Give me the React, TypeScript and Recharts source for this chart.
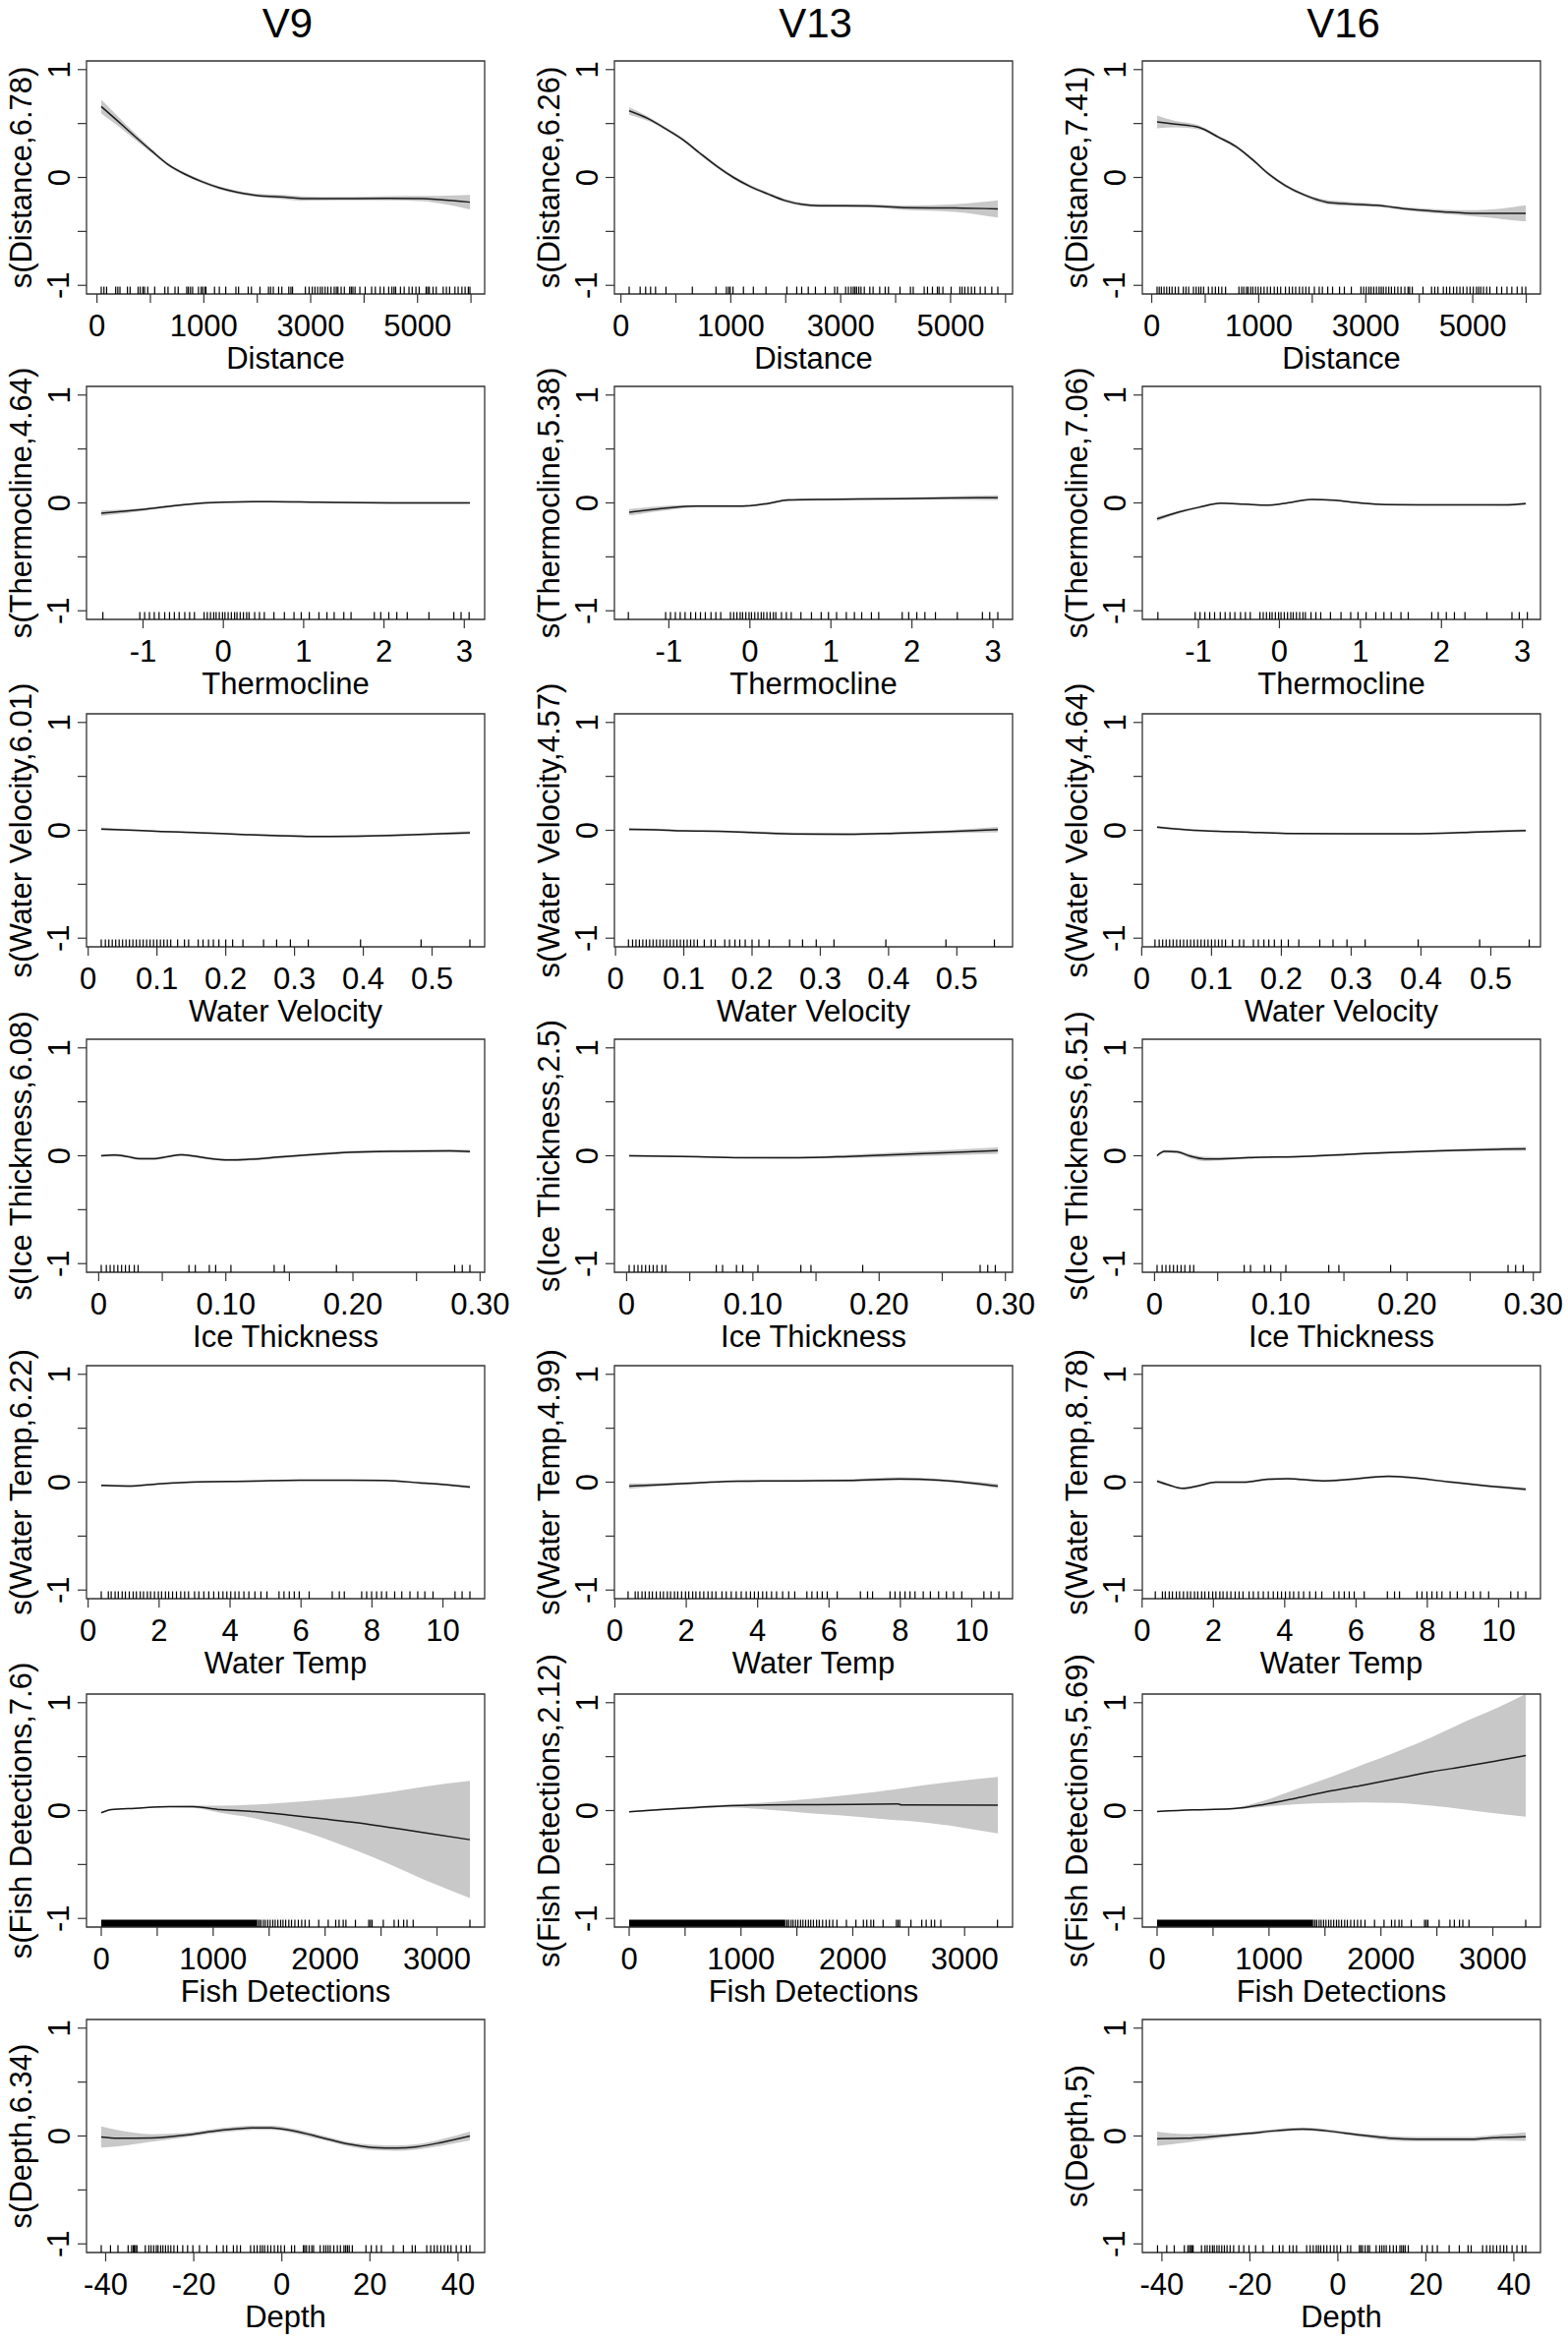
import React from 'react';
import { ComposedChart, Line, Area, XAxis, YAxis, ReferenceLine, ReferenceArea } from 'recharts';

const FONT = '"Liberation Sans", Arial, Helvetica, sans-serif';

// ---- tick definitions ----
const distTicks = [0, 1, 2, 3, 4, 5, 6, 7];
const distTickLabels = ['0', '', '1000', '', '3000', '', '5000', ''];
const thermoTicks = [-1, 0, 1, 2, 3];
const thermoTickLabels = ['-1', '0', '1', '2', '3'];
const veloTicks = [0, 0.1, 0.2, 0.3, 0.4, 0.5];
const veloTickLabels = ['0', '0.1', '0.2', '0.3', '0.4', '0.5'];
const iceTicks = [0, 0.05, 0.1, 0.15, 0.2, 0.25, 0.3];
const iceTickLabels = ['0', '', '0.10', '', '0.20', '', '0.30'];
const tempTicks = [0, 2, 4, 6, 8, 10];
const tempTickLabels = ['0', '2', '4', '6', '8', '10'];
const fishTicks = [0, 500, 1000, 1500, 2000, 2500, 3000];
const fishTickLabels = ['0', '', '1000', '', '2000', '', '3000'];
const depthTicks = [-40, -20, 0, 20, 40];
const depthTickLabels = ['-40', '-20', '0', '20', '40'];
const yTicks = [-1, -0.5, 0, 0.5, 1];

// ---- Distance ----
const v9DistX = [0.08, 0.38, 0.7, 1.02, 1.33, 1.65, 1.97, 2.29, 2.6, 2.98, 3.56, 3.87, 4.5, 5.46, 6.1, 6.41, 6.98];
const v9DistFit = [0.657, 0.527, 0.385, 0.247, 0.12, 0.03, -0.04, -0.096, -0.135, -0.166, -0.184, -0.196, -0.196, -0.193, -0.196, -0.205, -0.229];
const v9DistSe = [0.065, 0.045, 0.03, 0.02, 0.015, 0.015, 0.015, 0.015, 0.015, 0.015, 0.02, 0.02, 0.015, 0.02, 0.025, 0.035, 0.068];

const v13DistX = [0.15, 0.51, 0.82, 1.13, 1.43, 1.74, 2.05, 2.36, 2.67, 2.98, 3.29, 3.6, 4.53, 5.15, 6.07, 6.86];
const v13DistFit = [0.617, 0.541, 0.45, 0.35, 0.228, 0.106, 0.0, -0.085, -0.152, -0.213, -0.249, -0.261, -0.264, -0.28, -0.283, -0.292];
const v13DistSe = [0.035, 0.02, 0.015, 0.015, 0.015, 0.015, 0.015, 0.015, 0.015, 0.015, 0.015, 0.015, 0.015, 0.02, 0.035, 0.08];

const v16DistX = [0.1, 0.44, 0.88, 1.25, 1.57, 1.88, 2.19, 2.5, 2.88, 3.26, 3.57, 4.2, 4.82, 5.45, 6.07, 6.99];
const v16DistFit = [0.515, 0.494, 0.464, 0.373, 0.288, 0.167, 0.03, -0.076, -0.167, -0.227, -0.242, -0.258, -0.294, -0.318, -0.333, -0.333];
const v16DistSe = [0.06, 0.03, 0.02, 0.015, 0.015, 0.015, 0.015, 0.015, 0.015, 0.02, 0.02, 0.015, 0.015, 0.02, 0.03, 0.075];

const v9DistRug = [0.08, 0.13, 0.18, 0.35, 0.39, 0.43, 0.57, 0.62, 0.77, 0.81, 0.86, 0.89, 0.95, 1.08, 1.27, 1.33, 1.46, 1.52, 1.68, 1.71, 1.75, 1.79, 1.9, 1.95, 1.98, 2.02, 2.04, 2.2, 2.29, 2.41, 2.6, 2.65, 2.83, 2.89, 3.05, 3.21, 3.25, 3.3, 3.4, 3.46, 3.59, 3.63, 3.66, 3.9, 3.97, 4.03, 4.08, 4.13, 4.18, 4.22, 4.27, 4.32, 4.38, 4.44, 4.48, 4.51, 4.57, 4.63, 4.73, 4.76, 4.79, 4.83, 4.92, 5.02, 5.14, 5.21, 5.3, 5.37, 5.46, 5.52, 5.56, 5.59, 5.68, 5.75, 5.84, 5.9, 5.97, 6.03, 6.16, 6.19, 6.22, 6.29, 6.35, 6.48, 6.54, 6.6, 6.7, 6.76, 6.83, 6.89, 6.95, 6.98];
const v13DistRug = [0.15, 0.35, 0.45, 0.54, 0.63, 0.82, 1.3, 1.73, 1.92, 1.96, 1.99, 2.04, 2.23, 2.41, 2.64, 3.02, 3.2, 3.29, 3.41, 3.54, 3.72, 3.89, 3.94, 4.09, 4.14, 4.19, 4.23, 4.26, 4.29, 4.33, 4.37, 4.43, 4.53, 4.59, 4.71, 4.81, 4.87, 5.08, 5.27, 5.32, 5.52, 5.58, 5.67, 5.76, 5.79, 5.86, 6.01, 6.17, 6.21, 6.26, 6.32, 6.38, 6.44, 6.54, 6.63, 6.75, 6.86];
const v16DistRug = [0.1, 0.14, 0.18, 0.23, 0.28, 0.33, 0.38, 0.44, 0.5, 0.59, 0.64, 0.69, 0.78, 0.83, 0.88, 0.92, 0.97, 1.06, 1.13, 1.19, 1.25, 1.31, 1.38, 1.63, 1.68, 1.72, 1.77, 1.8, 1.85, 1.89, 1.94, 1.99, 2.04, 2.1, 2.16, 2.22, 2.29, 2.35, 2.41, 2.5, 2.57, 2.63, 2.69, 2.76, 2.82, 2.88, 2.94, 3.04, 3.13, 3.19, 3.29, 3.38, 3.51, 3.6, 3.73, 3.91, 3.96, 4.01, 4.06, 4.1, 4.15, 4.2, 4.25, 4.29, 4.33, 4.38, 4.43, 4.48, 4.54, 4.6, 4.66, 4.73, 4.79, 4.82, 4.87, 5.07, 5.23, 5.29, 5.35, 5.45, 5.51, 5.57, 5.64, 5.7, 5.76, 5.82, 5.89, 5.95, 6.01, 6.07, 6.11, 6.15, 6.2, 6.26, 6.32, 6.45, 6.54, 6.64, 6.73, 6.83, 6.92, 6.99];

// ---- Thermocline ----
const v9ThermoX = [-1.52, -0.98, -0.48, 0, 0.57, 1.19, 2.19, 3.07];
const v9ThermoFit = [-0.096, -0.06, -0.015, 0.006, 0.012, 0.006, 0, 0];
const v9ThermoSe = [0.025, 0.012, 0.01, 0.008, 0.008, 0.008, 0.008, 0.01];

const v13ThermoX = [-1.49, -1, -0.65, -0.09, 0.22, 0.47, 0.97, 1.84, 2.46, 3.06];
const v13ThermoFit = [-0.087, -0.045, -0.03, -0.03, -0.006, 0.027, 0.033, 0.039, 0.045, 0.048];
const v13ThermoSe = [0.03, 0.02, 0.012, 0.01, 0.01, 0.01, 0.01, 0.012, 0.015, 0.022];

const v16ThermoX = [-1.51, -1.24, -0.99, -0.72, -0.43, -0.15, 0.12, 0.4, 0.68, 0.99, 1.3, 1.73, 2.35, 2.79, 3.04];
const v16ThermoFit = [-0.148, -0.085, -0.04, -0.003, -0.012, -0.021, 0.003, 0.033, 0.024, 0, -0.015, -0.018, -0.018, -0.018, -0.006];
const v16ThermoSe = [0.02, 0.012, 0.01, 0.008, 0.008, 0.008, 0.008, 0.008, 0.008, 0.008, 0.008, 0.008, 0.008, 0.01, 0.012];

const thermoRug = [-1.5, -1.04, -0.98, -0.92, -0.86, -0.8, -0.73, -0.67, -0.61, -0.55, -0.48, -0.42, -0.36, -0.24, -0.2, -0.16, -0.12, -0.09, -0.05, -0.01, 0.02, 0.06, 0.1, 0.14, 0.17, 0.21, 0.25, 0.29, 0.32, 0.39, 0.45, 0.51, 0.63, 0.76, 0.88, 0.97, 1.07, 1.19, 1.29, 1.38, 1.5, 1.59, 1.88, 1.96, 2.06, 2.16, 2.29, 2.56, 2.87, 2.96, 3.06];

// ---- Water Velocity ----
const v9VeloX = [0.019, 0.058, 0.1, 0.16, 0.23, 0.31, 0.34, 0.39, 0.45, 0.51, 0.555];
const v9VeloFit = [0.012, 0.003, -0.01, -0.022, -0.04, -0.055, -0.058, -0.055, -0.045, -0.032, -0.022];
const v9VeloSe = [0.012, 0.008, 0.008, 0.008, 0.008, 0.01, 0.01, 0.01, 0.01, 0.012, 0.015];

const v13VeloX = [0.02, 0.06, 0.1, 0.15, 0.2, 0.27, 0.34, 0.41, 0.49, 0.56];
const v13VeloFit = [0.009, 0.005, -0.005, -0.008, -0.02, -0.034, -0.036, -0.027, -0.012, 0.006];
const v13VeloSe = [0.012, 0.01, 0.008, 0.008, 0.01, 0.012, 0.012, 0.012, 0.015, 0.025];

const v16VeloX = [0.022, 0.065, 0.11, 0.17, 0.22, 0.3, 0.37, 0.43, 0.48, 0.55];
const v16VeloFit = [0.03, 0.005, -0.01, -0.02, -0.03, -0.033, -0.033, -0.027, -0.015, -0.003];
const v16VeloSe = [0.012, 0.008, 0.008, 0.008, 0.008, 0.008, 0.008, 0.008, 0.01, 0.012];

const veloRug = [0.019, 0.025, 0.03, 0.035, 0.04, 0.045, 0.05, 0.055, 0.06, 0.065, 0.07, 0.075, 0.08, 0.085, 0.09, 0.095, 0.1, 0.105, 0.11, 0.115, 0.12, 0.13, 0.14, 0.146, 0.16, 0.167, 0.175, 0.182, 0.19, 0.2, 0.21, 0.225, 0.255, 0.274, 0.294, 0.32, 0.396, 0.484, 0.555];

// ---- Ice Thickness ----
const v9IceX = [0.002, 0.012, 0.022, 0.032, 0.043, 0.055, 0.065, 0.075, 0.087, 0.103, 0.118, 0.142, 0.166, 0.197, 0.237, 0.276, 0.292];
const v9IceFit = [0, 0.006, -0.006, -0.027, -0.027, -0.006, 0.009, -0.003, -0.025, -0.039, -0.033, -0.012, 0.009, 0.033, 0.042, 0.045, 0.039];
const v9IceSe = [0.012, 0.012, 0.012, 0.012, 0.012, 0.012, 0.012, 0.012, 0.012, 0.012, 0.012, 0.012, 0.012, 0.012, 0.012, 0.012, 0.015];

const v13IceX = [0.002, 0.056, 0.096, 0.136, 0.176, 0.216, 0.256, 0.294];
const v13IceFit = [0, -0.009, -0.018, -0.018, -0.006, 0.012, 0.03, 0.048];
const v13IceSe = [0.01, 0.008, 0.008, 0.01, 0.015, 0.02, 0.025, 0.03];

const v16IceX = [0.002, 0.008, 0.018, 0.028, 0.04, 0.056, 0.08, 0.112, 0.152, 0.192, 0.232, 0.272, 0.294];
const v16IceFit = [0, 0.04, 0.036, -0.003, -0.03, -0.027, -0.015, -0.009, 0.012, 0.033, 0.048, 0.06, 0.063];
const v16IceSe = [0.012, 0.015, 0.015, 0.018, 0.02, 0.015, 0.01, 0.01, 0.01, 0.01, 0.012, 0.015, 0.018];

const iceRug = [0.002, 0.006, 0.009, 0.012, 0.015, 0.018, 0.021, 0.024, 0.028, 0.031, 0.071, 0.076, 0.087, 0.092, 0.104, 0.138, 0.146, 0.187, 0.28, 0.286, 0.292];

// ---- Water Temp ----
const v9TempX = [0.37, 1.13, 1.98, 3.12, 4.53, 5.95, 7.37, 8.36, 9.35, 10.2, 10.76];
const v9TempFit = [-0.03, -0.036, -0.015, 0.003, 0.009, 0.018, 0.018, 0.015, -0.006, -0.027, -0.045];
const v9TempSe = [0.012, 0.01, 0.008, 0.008, 0.008, 0.008, 0.008, 0.008, 0.01, 0.01, 0.012];

const v13TempX = [0.4, 1.19, 2.32, 3.45, 5.14, 6.55, 7.97, 9.1, 9.94, 10.73];
const v13TempFit = [-0.036, -0.024, -0.006, 0.009, 0.012, 0.015, 0.03, 0.018, -0.006, -0.036];
const v13TempSe = [0.025, 0.015, 0.01, 0.01, 0.01, 0.012, 0.015, 0.012, 0.015, 0.02];

const v16TempX = [0.42, 0.76, 1.13, 1.55, 2.06, 2.82, 3.52, 4.08, 5.07, 5.77, 6.9, 7.46, 8.59, 9.72, 10.76];
const v16TempFit = [0.009, -0.027, -0.057, -0.036, 0, 0, 0.027, 0.033, 0.012, 0.024, 0.054, 0.045, 0.003, -0.036, -0.066];
const v16TempSe = [0.015, 0.012, 0.012, 0.012, 0.01, 0.01, 0.01, 0.01, 0.01, 0.01, 0.01, 0.01, 0.01, 0.012, 0.015];

const tempRug = [0.37, 0.57, 0.65, 0.76, 0.85, 0.96, 1.05, 1.16, 1.27, 1.36, 1.47, 1.56, 1.67, 1.76, 1.87, 1.98, 2.07, 2.18, 2.27, 2.38, 2.49, 2.61, 2.72, 2.83, 3.0, 3.12, 3.26, 3.4, 3.54, 3.68, 3.8, 3.91, 4.02, 4.14, 4.25, 4.39, 4.53, 4.7, 4.87, 5.04, 5.38, 5.52, 5.67, 5.81, 5.95, 6.23, 6.88, 7.08, 7.22, 7.71, 7.85, 7.99, 8.13, 8.27, 8.41, 8.64, 8.84, 9.07, 9.29, 9.49, 9.72, 10.34, 10.54, 10.76];

// ---- Fish Detections ----
const v9FishX = [0, 91, 304, 607, 820, 1062, 1366, 1670, 1973, 2277, 2580, 2884, 3294];
const v9FishFit = [-0.021, 0.009, 0.021, 0.036, 0.036, 0.009, -0.009, -0.04, -0.076, -0.112, -0.158, -0.204, -0.27];
const v9FishHi = [-0.014, 0.015, 0.027, 0.043, 0.048, 0.045, 0.055, 0.075, 0.1, 0.13, 0.17, 0.22, 0.275];
const v9FishLo = [-0.028, 0.003, 0.015, 0.029, 0.024, -0.02, -0.07, -0.15, -0.25, -0.37, -0.5, -0.64, -0.81];

const v13FishX = [0, 318, 620, 862, 1225, 1679, 2011, 2405, 2435, 3297];
const v13FishFit = [-0.012, 0.012, 0.03, 0.043, 0.052, 0.055, 0.058, 0.061, 0.052, 0.049];
const v13FishHi = [-0.006, 0.02, 0.04, 0.055, 0.075, 0.115, 0.15, 0.2, 0.205, 0.313];
const v13FishLo = [-0.018, 0.004, 0.02, 0.03, 0.01, -0.03, -0.055, -0.09, -0.092, -0.213];

const v16FishX = [0, 316, 647, 948, 1249, 1549, 1850, 2151, 2452, 2753, 3054, 3294];
const v16FishFit = [-0.009, 0.006, 0.015, 0.055, 0.116, 0.182, 0.237, 0.298, 0.359, 0.41, 0.465, 0.51];
const v16FishHi = [-0.004, 0.011, 0.022, 0.09, 0.2, 0.31, 0.43, 0.55, 0.68, 0.825, 0.96, 1.08];
const v16FishLo = [-0.014, 0.001, 0.008, 0.035, 0.06, 0.07, 0.076, 0.07, 0.045, 0.01, -0.03, -0.058];

const fishRugDense: [number, number] = [0, 1390];
const fishRug = [1396, 1412, 1427, 1448, 1466, 1488, 1509, 1533, 1554, 1578, 1603, 1624, 1648, 1676, 1700, 1730, 1761, 1791, 1821, 1858, 1943, 2028, 2095, 2125, 2162, 2186, 2271, 2390, 2405, 2420, 2520, 2617, 2656, 2702, 2732, 2787, 3294];

// ---- Depth ----
const v9DepthX = [-41, -37.2, -29.5, -21.8, -14, -6.3, -2.5, 2.9, 9.1, 15.3, 20.7, 26.1, 30.7, 36.1, 42.7];
const v9DepthFit = [-0.009, -0.021, -0.018, 0.009, 0.052, 0.076, 0.076, 0.046, -0.015, -0.076, -0.106, -0.112, -0.1, -0.061, 0];
const v9DepthSe = [0.097, 0.075, 0.035, 0.02, 0.02, 0.02, 0.02, 0.02, 0.02, 0.02, 0.025, 0.025, 0.025, 0.03, 0.042];

const v16DepthX = [-41.1, -34.7, -27.1, -20.2, -14.1, -8, -2.7, 5, 11.8, 17.9, 29.4, 35.5, 42.7];
const v16DepthFit = [-0.024, -0.021, 0, 0.024, 0.049, 0.064, 0.049, 0.009, -0.021, -0.03, -0.03, -0.015, -0.006];
const v16DepthSe = [0.066, 0.04, 0.02, 0.015, 0.015, 0.015, 0.015, 0.015, 0.02, 0.02, 0.02, 0.025, 0.04];

const depthRug = [-41.0, -38.9, -37.2, -34.9, -34.1, -33.7, -33.5, -33.2, -32.9, -31.0, -30.2, -29.7, -29.1, -28.5, -28.1, -27.5, -27.0, -26.4, -25.8, -25.2, -24.5, -23.7, -22.5, -21.4, -20.2, -18.7, -17.0, -14.8, -13.3, -12.5, -11.0, -10.2, -9.4, -7.1, -6.3, -5.6, -4.9, -4.4, -3.9, -3.2, -2.5, -1.7, -0.9, -0.2, 0.6, 2.2, 2.9, 4.9, 5.2, 5.6, 6.2, 6.8, 7.2, 8.7, 9.5, 10.0, 10.5, 11.0, 11.8, 12.6, 13.3, 14.1, 14.5, 14.9, 15.3, 16.0, 19.1, 20.3, 21.5, 22.6, 25.3, 27.6, 29.6, 30.3, 32.9, 33.8, 34.6, 35.3, 36.1, 36.9, 37.7, 38.4, 39.6, 40.7, 41.9, 42.7];

// ---- layout ----
const colLefts = [88, 625, 1162];
const rowTops = [62, 393, 726, 1057, 1389, 1723, 2054];
const BOX_W = 405;
const BOX_H = 237;
const AXIS_W = 60;
const PAD = 6;
const PAD_RIGHT = 40;
const AXIS_H = 52;
const Y_MIN = -1.08;
const Y_MAX = 1.08;
const RUG_LEN = 0.068;
const FS = 31;

const columnTitles = ['V9', 'V13', 'V16'];

type PanelDef = {
  col: number;
  row: number;
  yTitle: string;
  xTitle: string;
  x: number[];
  fit: number[];
  se?: number[];
  lo?: number[];
  hi?: number[];
  rug: number[];
  dense?: [number, number];
  ticks: number[];
  tickLabels: string[];
};

const panels: PanelDef[] = [
  { col: 0, row: 0, yTitle: 's(Distance,6.78)', xTitle: 'Distance', x: v9DistX, fit: v9DistFit, se: v9DistSe, rug: v9DistRug, ticks: distTicks, tickLabels: distTickLabels },
  { col: 1, row: 0, yTitle: 's(Distance,6.26)', xTitle: 'Distance', x: v13DistX, fit: v13DistFit, se: v13DistSe, rug: v13DistRug, ticks: distTicks, tickLabels: distTickLabels },
  { col: 2, row: 0, yTitle: 's(Distance,7.41)', xTitle: 'Distance', x: v16DistX, fit: v16DistFit, se: v16DistSe, rug: v16DistRug, ticks: distTicks, tickLabels: distTickLabels },
  { col: 0, row: 1, yTitle: 's(Thermocline,4.64)', xTitle: 'Thermocline', x: v9ThermoX, fit: v9ThermoFit, se: v9ThermoSe, rug: thermoRug, ticks: thermoTicks, tickLabels: thermoTickLabels },
  { col: 1, row: 1, yTitle: 's(Thermocline,5.38)', xTitle: 'Thermocline', x: v13ThermoX, fit: v13ThermoFit, se: v13ThermoSe, rug: thermoRug, ticks: thermoTicks, tickLabels: thermoTickLabels },
  { col: 2, row: 1, yTitle: 's(Thermocline,7.06)', xTitle: 'Thermocline', x: v16ThermoX, fit: v16ThermoFit, se: v16ThermoSe, rug: thermoRug, ticks: thermoTicks, tickLabels: thermoTickLabels },
  { col: 0, row: 2, yTitle: 's(Water Velocity,6.01)', xTitle: 'Water Velocity', x: v9VeloX, fit: v9VeloFit, se: v9VeloSe, rug: veloRug, ticks: veloTicks, tickLabels: veloTickLabels },
  { col: 1, row: 2, yTitle: 's(Water Velocity,4.57)', xTitle: 'Water Velocity', x: v13VeloX, fit: v13VeloFit, se: v13VeloSe, rug: veloRug, ticks: veloTicks, tickLabels: veloTickLabels },
  { col: 2, row: 2, yTitle: 's(Water Velocity,4.64)', xTitle: 'Water Velocity', x: v16VeloX, fit: v16VeloFit, se: v16VeloSe, rug: veloRug, ticks: veloTicks, tickLabels: veloTickLabels },
  { col: 0, row: 3, yTitle: 's(Ice Thickness,6.08)', xTitle: 'Ice Thickness', x: v9IceX, fit: v9IceFit, se: v9IceSe, rug: iceRug, ticks: iceTicks, tickLabels: iceTickLabels },
  { col: 1, row: 3, yTitle: 's(Ice Thickness,2.5)', xTitle: 'Ice Thickness', x: v13IceX, fit: v13IceFit, se: v13IceSe, rug: iceRug, ticks: iceTicks, tickLabels: iceTickLabels },
  { col: 2, row: 3, yTitle: 's(Ice Thickness,6.51)', xTitle: 'Ice Thickness', x: v16IceX, fit: v16IceFit, se: v16IceSe, rug: iceRug, ticks: iceTicks, tickLabels: iceTickLabels },
  { col: 0, row: 4, yTitle: 's(Water Temp,6.22)', xTitle: 'Water Temp', x: v9TempX, fit: v9TempFit, se: v9TempSe, rug: tempRug, ticks: tempTicks, tickLabels: tempTickLabels },
  { col: 1, row: 4, yTitle: 's(Water Temp,4.99)', xTitle: 'Water Temp', x: v13TempX, fit: v13TempFit, se: v13TempSe, rug: tempRug, ticks: tempTicks, tickLabels: tempTickLabels },
  { col: 2, row: 4, yTitle: 's(Water Temp,8.78)', xTitle: 'Water Temp', x: v16TempX, fit: v16TempFit, se: v16TempSe, rug: tempRug, ticks: tempTicks, tickLabels: tempTickLabels },
  { col: 0, row: 5, yTitle: 's(Fish Detections,7.6)', xTitle: 'Fish Detections', x: v9FishX, fit: v9FishFit, lo: v9FishLo, hi: v9FishHi, rug: fishRug, dense: fishRugDense, ticks: fishTicks, tickLabels: fishTickLabels },
  { col: 1, row: 5, yTitle: 's(Fish Detections,2.12)', xTitle: 'Fish Detections', x: v13FishX, fit: v13FishFit, lo: v13FishLo, hi: v13FishHi, rug: fishRug, dense: fishRugDense, ticks: fishTicks, tickLabels: fishTickLabels },
  { col: 2, row: 5, yTitle: 's(Fish Detections,5.69)', xTitle: 'Fish Detections', x: v16FishX, fit: v16FishFit, lo: v16FishLo, hi: v16FishHi, rug: fishRug, dense: fishRugDense, ticks: fishTicks, tickLabels: fishTickLabels },
  { col: 0, row: 6, yTitle: 's(Depth,6.34)', xTitle: 'Depth', x: v9DepthX, fit: v9DepthFit, se: v9DepthSe, rug: depthRug, ticks: depthTicks, tickLabels: depthTickLabels },
  { col: 2, row: 6, yTitle: 's(Depth,5)', xTitle: 'Depth', x: v16DepthX, fit: v16DepthFit, se: v16DepthSe, rug: depthRug, ticks: depthTicks, tickLabels: depthTickLabels },
];

// R-style axis: 4% padding around the data range
const paddedDomain = (x: number[]): [number, number] => {
  const lo = Math.min(...x);
  const hi = Math.max(...x);
  const pad = (hi - lo) * 0.04;
  return [lo - pad, hi + pad];
};

const YTick = (props: any) => {
  const { x, y, payload } = props;
  if (!Number.isInteger(payload.value)) return <g />;
  const bx = x - 8.5;
  return (
    <text x={bx} y={y} textAnchor="middle" fontSize={FS} fontFamily={FONT} fill="#000"
      transform={`rotate(-90 ${bx} ${y})`}>
      {String(payload.value)}
    </text>
  );
};

const makeXTick = (ticks: number[], labels: string[]) => (props: any) => {
  const { x, y, payload } = props;
  const i = ticks.findIndex((t) => Math.abs(t - payload.value) < 1e-9);
  const label = i >= 0 ? labels[i] : '';
  if (!label) return <g />;
  return (
    <text x={x} y={y + 34} textAnchor="middle" fontSize={FS} fontFamily={FONT} fill="#000">
      {label}
    </text>
  );
};

const Panel: React.FC<{ p: PanelDef }> = ({ p }) => {
  const domain = paddedDomain(p.x);
  const rows = p.x.map((v, i) => {
    const lo = p.lo ? p.lo[i] : p.fit[i] - (p.se ? p.se[i] : 0);
    const hi = p.hi ? p.hi[i] : p.fit[i] + (p.se ? p.se[i] : 0);
    return { x: v, fit: p.fit[i], band: [lo, hi] };
  });
  const left = colLefts[p.col] - AXIS_W;
  const top = rowTops[p.row] - PAD;

  return (
    <div style={{ position: 'absolute', left, top }}>
      <ComposedChart
        width={AXIS_W + BOX_W + PAD_RIGHT}
        height={PAD + BOX_H + AXIS_H}
        data={rows}
        margin={{ top: PAD, right: PAD_RIGHT, left: 0, bottom: 0 }}
      >
        <XAxis dataKey="x" type="number" domain={domain} allowDataOverflow ticks={p.ticks} interval={0}
          height={AXIS_H} axisLine={false} tickSize={9} tickMargin={0}
          tickLine={{ stroke: '#333', strokeWidth: 1.2 }} tick={makeXTick(p.ticks, p.tickLabels)} />
        <YAxis type="number" domain={[Y_MIN, Y_MAX]} allowDataOverflow ticks={yTicks} interval={0}
          width={AXIS_W} axisLine={false} tickSize={9} tickMargin={0}
          tickLine={{ stroke: '#333', strokeWidth: 1.2 }} tick={YTick} />
        <Area dataKey="band" type="monotone" fill="#c8c8c8" fillOpacity={1} stroke="none"
          isAnimationActive={false} />
        <Line dataKey="fit" type="monotone" stroke="#1a1a1a" strokeWidth={1.5} dot={false}
          isAnimationActive={false} />
        {p.dense && (
          <ReferenceArea x1={p.dense[0]} x2={p.dense[1]} y1={Y_MIN} y2={Y_MIN + RUG_LEN}
            fill="#000" fillOpacity={1} stroke="none" ifOverflow="visible" />
        )}
        {p.rug.map((v, i) => (
          <ReferenceLine key={i} segment={[{ x: v, y: Y_MIN }, { x: v, y: Y_MIN + RUG_LEN }]}
            stroke="#000" strokeWidth={1.2} ifOverflow="visible" />
        ))}
        <ReferenceArea x1={domain[0]} x2={domain[1]} y1={Y_MIN} y2={Y_MAX}
          fill="none" stroke="#333" strokeWidth={1.3} ifOverflow="visible" />
      </ComposedChart>
    </div>
  );
};

const App: React.FC = () => {
  return (
    <div style={{ position: 'absolute', left: 0, top: 0, width: 1595, height: 2381, background: '#fff' }}>
      {panels.map((p, i) => (
        <Panel key={i} p={p} />
      ))}
      <svg width={1595} height={2381} style={{ position: 'absolute', left: 0, top: 0, pointerEvents: 'none' }}>
        {columnTitles.map((t, c) => (
          <text key={t} x={colLefts[c] + BOX_W / 2 + 2} y={38} textAnchor="middle" fontSize={42}
            fontFamily={FONT} fill="#000">{t}</text>
        ))}
        {panels.map((p, i) => {
          const cx = colLefts[p.col] + BOX_W / 2;
          const bottom = rowTops[p.row] + BOX_H;
          const lx = colLefts[p.col] - 56;
          const ly = rowTops[p.row] + BOX_H / 2;
          return (
            <g key={i}>
              <text x={cx} y={bottom + 76} textAnchor="middle" fontSize={FS} fontFamily={FONT} fill="#000">
                {p.xTitle}
              </text>
              <text x={lx} y={ly} textAnchor="middle" fontSize={FS} fontFamily={FONT} fill="#000"
                transform={`rotate(-90 ${lx} ${ly})`}>
                {p.yTitle}
              </text>
            </g>
          );
        })}
      </svg>
    </div>
  );
};

export default App;
